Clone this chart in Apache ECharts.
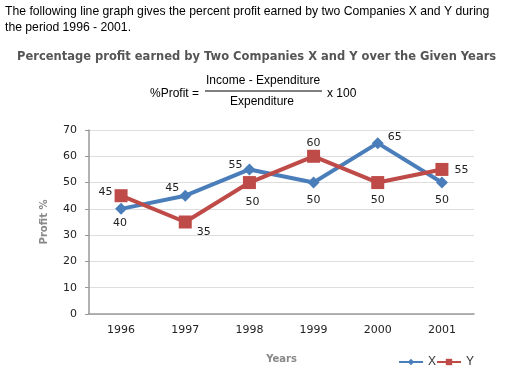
<!DOCTYPE html>
<html><head><meta charset="utf-8">
<script src="https://cdn.jsdelivr.net/npm/echarts@6/dist/echarts.min.js"></script>
<style>html,body{margin:0;padding:0;background:#fff}#c{width:505px;height:374px}</style>
</head><body><div id="c"></div>
<script>
const years = ['1996','1997','1998','1999','2000','2001'];
const companyX = [40, 45, 55, 50, 65, 50];
const companyY = [45, 35, 50, 60, 50, 55];
const yTicks = [0, 10, 20, 30, 40, 50, 60, 70];

// label placement (styling only)
const xLabelPos = [['bottom',[-1,-3]],['left',[6,-8]],['left',[5,-4]],['bottom',[0,0]],['right',[-2,-6]],['bottom',[0,0]]];
const yLabelPos = [['left',[4,-4]],['right',[-1,10]],['bottom',[3,2]],['top',[0,5]],['bottom',[0,0]],['right',[0,1]]];

const chart = echarts.init(document.getElementById('c'));
const lblFont = {fontFamily:'DejaVu Sans', fontSize:11, color:'#222'};
function mk(vals, pos){
  return vals.map((v,i)=>({value:v, label:{show:true, position:pos[i][0], offset:pos[i][1], distance:6, ...lblFont}}));
}
chart.setOption({
  animation:false,
  grid:{left:89, right:31, top:130, bottom:60},
  graphic:[
    {type:'text', left:5, top:4, style:{text:'The following line graph gives the percent profit earned by two Companies X and Y during\nthe period 1996 - 2001.', font:'12.2px "Liberation Sans"', fill:'#000', lineHeight:16}},
    {type:'text', left:17, top:51, style:{text:'Percentage profit earned by Two Companies X and Y over the Given Years', font:'bold 11.5px "DejaVu Sans"', fill:'#555'}},
    {type:'text', left:150, top:88, style:{text:'%Profit =', font:'12px "Liberation Sans"', fill:'#000'}},
    {type:'text', left:206, top:75, style:{text:'Income - Expenditure', font:'12px "Liberation Sans"', fill:'#000'}},
    {type:'line', shape:{x1:205, y1:91, x2:322, y2:91}, style:{stroke:'#000', lineWidth:1}},
    {type:'text', left:230, top:96, style:{text:'Expenditure', font:'12px "Liberation Sans"', fill:'#000'}},
    {type:'text', left:327, top:88, style:{text:'x 100', font:'12px "Liberation Sans"', fill:'#000'}}
  ],
  legend:{
    right:26, bottom:1, itemGap:0, itemWidth:24, itemHeight:8,
    textStyle:{fontFamily:'Liberation Sans', fontSize:12, color:'#333', padding:[0,0,0,0]},
    data:[{name:'X'},{name:'Y'}]
  },
  xAxis:{
    type:'category', data:years, boundaryGap:true,
    name:'Years', nameLocation:'middle', nameGap:40,
    nameTextStyle:{fontFamily:'DejaVu Sans', fontWeight:'bold', fontSize:10, color:'#888'},
    axisLine:{lineStyle:{color:'#999', width:1.5}},
    axisTick:{alignWithLabel:true, length:5, lineStyle:{color:'#999'}},
    axisLabel:{margin:11, ...lblFont}
  },
  yAxis:{
    type:'value', min:yTicks[0], max:yTicks[yTicks.length-1], interval:10,
    name:'Profit %', nameLocation:'middle', nameGap:40,
    nameTextStyle:{fontFamily:'DejaVu Sans', fontWeight:'bold', fontSize:10, color:'#888'},
    axisLine:{show:true, lineStyle:{color:'#999', width:1.5}},
    axisTick:{show:true, length:4, lineStyle:{color:'#999'}},
    splitLine:{lineStyle:{color:'#ddd'}},
    axisLabel:{margin:12, ...lblFont}
  },
  series:[
    {name:'X', type:'line', data:mk(companyX, xLabelPos), symbol:'diamond', symbolSize:12,
     lineStyle:{color:'#4a7ebb', width:4}, itemStyle:{color:'#4a7ebb'}},
    {name:'Y', type:'line', data:mk(companyY, yLabelPos), symbol:'rect', symbolSize:13,
     lineStyle:{color:'#be4b48', width:4}, itemStyle:{color:'#be4b48'}}
  ]
});
</script></body></html>
